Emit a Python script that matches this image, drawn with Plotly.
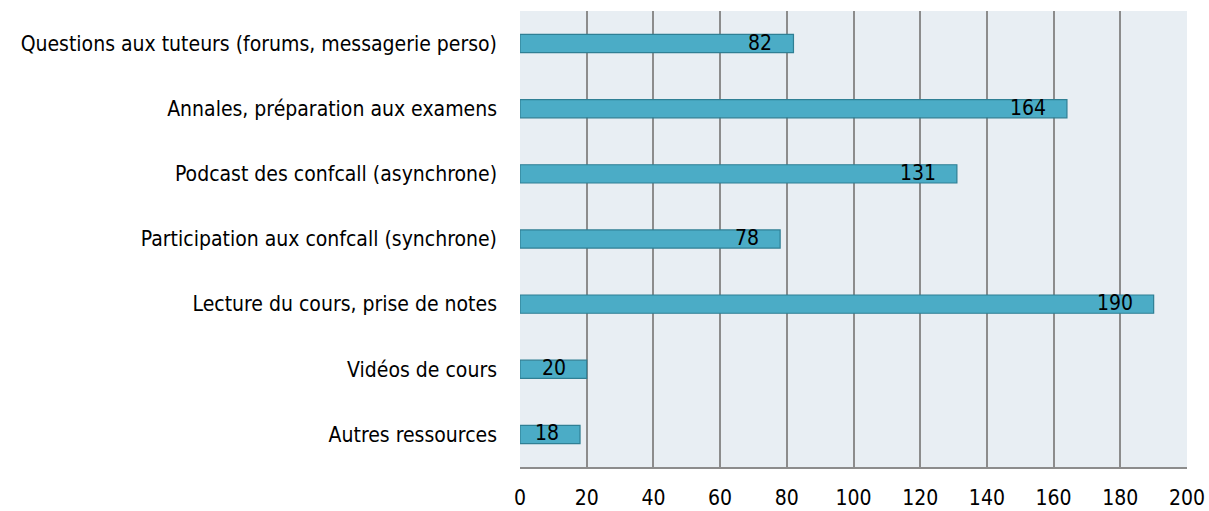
import plotly.graph_objects as go

# Ressources utilisées (nombre de réponses)
categories = [
    "Questions aux tuteurs (forums, messagerie perso)",
    "Annales, préparation aux examens",
    "Podcast des confcall (asynchrone)",
    "Participation aux confcall (synchrone)",
    "Lecture du cours, prise de notes",
    "Vidéos de cours",
    "Autres ressources",
]
values = [82, 164, 131, 78, 190, 20, 18]
x_ticks = [0, 20, 40, 60, 80, 100, 120, 140, 160, 180, 200]

FONT = "DejaVu Sans Condensed, Liberation Sans Narrow, Liberation Sans, sans-serif"

fig = go.Figure()
fig.add_trace(go.Bar(
    y=categories,
    x=values,
    orientation="h",
    width=0.28,
    marker=dict(color="#4bacc6", line=dict(color="#2f7f94", width=1.2)),
    hoverinfo="x+y",
))

for cat, v in zip(categories, values):
    fig.add_annotation(
        x=v, y=cat, text=str(v), showarrow=False,
        xanchor="right", yanchor="middle", xshift=-19, yshift=1,
        font=dict(family=FONT, size=21, color="#000000"),
    )

fig.update_layout(
    width=1209, height=511,
    margin=dict(l=520, r=22, t=11, b=44),
    paper_bgcolor="#ffffff",
    plot_bgcolor="#e8eef3",
    showlegend=False,
    font=dict(family=FONT, size=21, color="#000000"),
    bargap=0.7,
)
fig.update_xaxes(
    range=[0, 200], tickvals=x_ticks, ticktext=[str(t) for t in x_ticks],
    showgrid=True, gridcolor="#8c8c8c", gridwidth=2,
    zeroline=False, showline=True, linecolor="#8c8c8c", linewidth=2,
    ticks="", ticklabelstandoff=11, fixedrange=True, automargin=False,
)
fig.update_yaxes(
    categoryorder="array", categoryarray=categories[::-1],
    range=[-0.5, 6.5], showgrid=False, zeroline=False,
    showline=False, ticks="", ticklabelstandoff=22, fixedrange=True,
    automargin=False,
)

fig.write_html("out.html")
